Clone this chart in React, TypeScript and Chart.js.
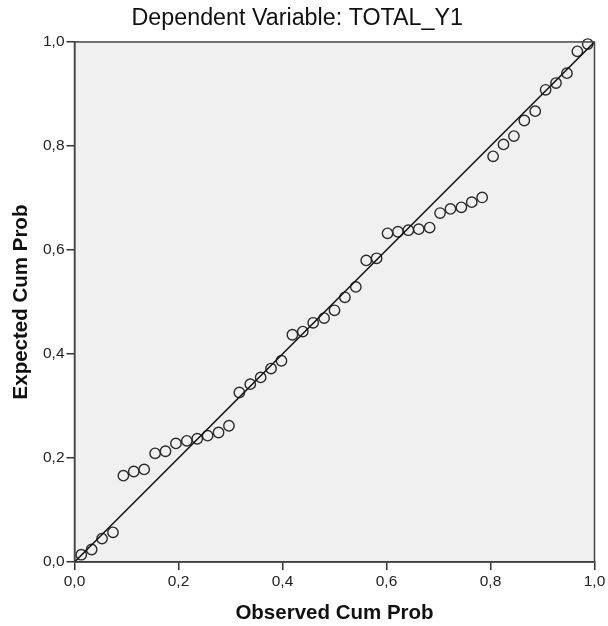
import React, { useEffect, useRef } from "react";
import { Chart, registerables } from "chart.js";

Chart.register(...registerables);

const titleText = "Dependent Variable: TOTAL_Y1";
const xAxisTitle = "Observed Cum Prob";
const yAxisTitle = "Expected Cum Prob";

const observedCumProb = [
  0.013, 0.033, 0.053, 0.074, 0.094, 0.114, 0.134, 0.155, 0.175, 0.195,
  0.216, 0.236, 0.256, 0.277, 0.297, 0.317, 0.338, 0.358, 0.378, 0.398,
  0.419, 0.439, 0.459, 0.48, 0.5, 0.52, 0.541, 0.561, 0.581, 0.602,
  0.622, 0.642, 0.662, 0.683, 0.703, 0.723, 0.744, 0.764, 0.784, 0.805,
  0.825, 0.845, 0.865, 0.886, 0.906, 0.926, 0.947, 0.967, 0.987,
];

const expectedCumProb = [
  0.014, 0.024, 0.045, 0.057, 0.166, 0.174, 0.178, 0.209, 0.213, 0.228,
  0.233, 0.237, 0.243, 0.249, 0.262, 0.326, 0.342, 0.355, 0.372, 0.387,
  0.437, 0.443, 0.46, 0.469, 0.484, 0.509, 0.529, 0.58, 0.584, 0.632,
  0.635, 0.638, 0.64, 0.643, 0.671, 0.679, 0.682, 0.692, 0.701, 0.78,
  0.803, 0.819, 0.849, 0.867, 0.908, 0.921, 0.94, 0.982, 0.996,
];

const referenceLine = [
  { x: 0, y: 0 },
  { x: 1, y: 1 },
];

const fontFamily = "'Liberation Sans', Arial, sans-serif";

const plotBackground = {
  id: "plotBackground",
  beforeDraw(chart: any) {
    const { ctx, chartArea } = chart;
    ctx.save();
    ctx.fillStyle = "#f0f0f0";
    ctx.fillRect(chartArea.left, chartArea.top, chartArea.right - chartArea.left, chartArea.bottom - chartArea.top);
    ctx.restore();
  },
  afterDatasetsDraw(chart: any) {
    const { ctx, chartArea } = chart;
    ctx.save();
    ctx.strokeStyle = "#444";
    ctx.lineWidth = 1.5;
    ctx.strokeRect(chartArea.left, chartArea.top, chartArea.right - chartArea.left, chartArea.bottom - chartArea.top);
    ctx.restore();
  },
};

export default function App() {
  const canvasRef = useRef<HTMLCanvasElement | null>(null);

  useEffect(() => {
    if (!canvasRef.current) return;
    const points = observedCumProb.map((x, i) => ({ x, y: expectedCumProb[i] }));
    const fmt = (v: any) => Number(v).toFixed(1).replace(".", ",");
    const chart = new Chart(canvasRef.current, {
      type: "scatter",
      data: {
        datasets: [
          {
            type: "line",
            data: referenceLine,
            borderColor: "#111",
            borderWidth: 1.5,
            pointRadius: 0,
            fill: false,
            order: 1,
          } as any,
          {
            type: "scatter",
            data: points,
            pointRadius: 5.2,
            pointBorderWidth: 1.4,
            borderColor: "#2a2a2a",
            backgroundColor: "rgba(0,0,0,0)",
            clip: false,
            order: 2,
          } as any,
        ],
      },
      options: {
        animation: false,
        responsive: false,
        devicePixelRatio: 1,
        layout: { padding: { left: 0, right: 13.5, top: 0, bottom: 0 } },
        plugins: {
          legend: { display: false },
          tooltip: { enabled: false },
          title: {
            display: true,
            text: titleText,
            color: "#111",
            font: { family: fontFamily, size: 23.3, weight: "normal" },
            padding: { top: 5, bottom: 9 },
          },
        },
        scales: {
          x: {
            type: "linear",
            min: 0,
            max: 1,
            afterFit: (s: any) => {
              s.height = 64;
            },
            ticks: {
              stepSize: 0.2,
              callback: fmt,
              color: "#222",
              font: { family: fontFamily, size: 15.5 },
              padding: 2,
              maxRotation: 0,
            },
            grid: {
              drawOnChartArea: false,
              drawTicks: true,
              tickLength: 8,
              color: "#333",
              lineWidth: 1.5,
            },
            border: { display: true, color: "#333", width: 1.5 },
            title: {
              display: true,
              text: xAxisTitle,
              color: "#111",
              font: { family: fontFamily, size: 20.5, weight: "bold" },
              padding: { top: 0, bottom: 0 },
            },
          },
          y: {
            type: "linear",
            min: 0,
            max: 1,
            afterFit: (s: any) => {
              s.width = 74.5;
            },
            ticks: {
              stepSize: 0.2,
              callback: fmt,
              color: "#222",
              font: { family: fontFamily, size: 15.5 },
              padding: 2,
            },
            grid: {
              drawOnChartArea: false,
              drawTicks: true,
              tickLength: 8,
              color: "#333",
              lineWidth: 1.5,
            },
            border: { display: true, color: "#333", width: 1.5 },
            title: {
              display: true,
              text: yAxisTitle,
              color: "#111",
              font: { family: fontFamily, size: 20.5, weight: "bold" },
              padding: { top: 8.7, bottom: 0 },
            },
          },
        },
      },
      plugins: [plotBackground],
    });
    return () => chart.destroy();
  }, []);

  return (
    <div style={{ position: "absolute", left: 0, top: 0, width: 608, height: 626, background: "#fff" }}>
      <canvas ref={canvasRef} width={608} height={626} style={{ width: 608, height: 626, display: "block" }} />
    </div>
  );
}
